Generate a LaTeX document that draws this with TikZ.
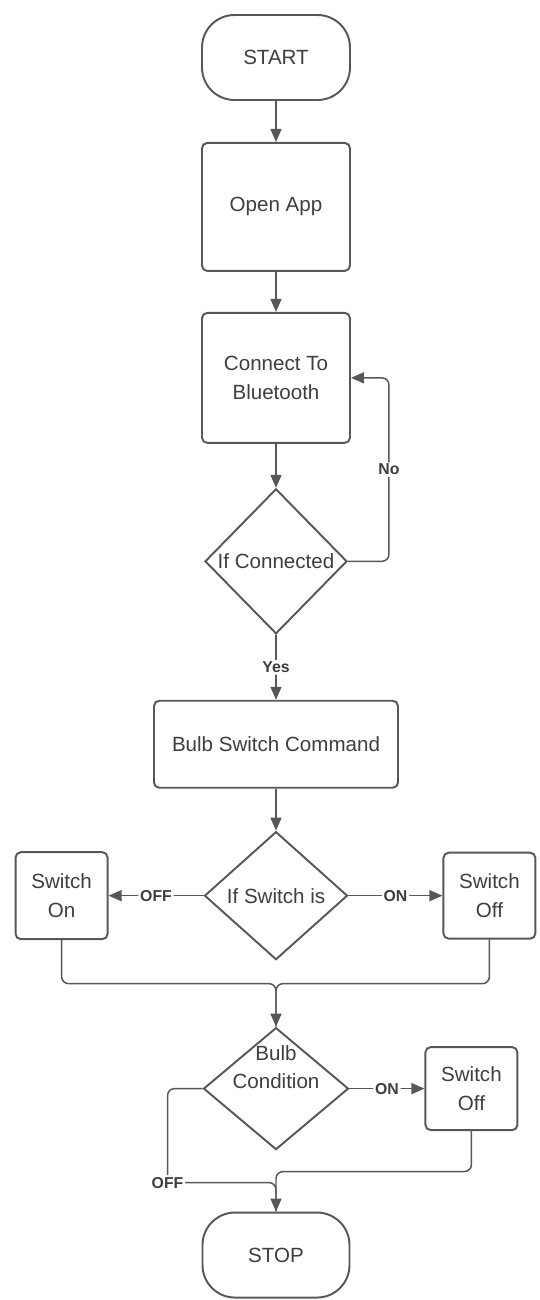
\documentclass[tikz,border=0pt]{standalone}
\usepackage{fontspec}
\setmainfont{Liberation Sans}
\usetikzlibrary{arrows.meta,positioning,shapes.geometric}
\definecolor{linegray}{HTML}{575757}
\definecolor{textgray}{HTML}{3E3E3E}
\tikzset{
    %Define standard arrow tip
    >={Triangle[length=2.6mm,width=2.2mm]},
    %Define style for start and stop
    termnode/.style={
             rectangle, rounded corners=0.65cm,
             draw=linegray, line width=1.1pt,
             minimum width=2.96cm, minimum height=1.7cm,
             text=textgray,
             font=\fontsize{11.7}{16}\selectfont},
    %Define style for boxes
    procnode/.style={
             rectangle, rounded corners=3pt,
             draw=linegray, line width=1.1pt,
             align=center, inner sep=0pt,
             text=textgray,
             font=\fontsize{11.7}{16}\selectfont},
    %Define style for decisions
    decnode/.style={
             diamond, inner sep=0pt,
             draw=linegray, line width=1.1pt,
             align=center,
             text=textgray,
             font=\fontsize{11.7}{16}\selectfont},
    % Define arrow style
    flowarrow/.style={
            ->,
            linegray,
            line width=0.85pt,
            rounded corners=4pt},
    flowline/.style={
            linegray,
            line width=0.85pt,
            rounded corners=4pt},
    % Define style for branch labels
    branchlabel/.style={
            fill=white, inner sep=1pt,
            text=textgray,
            font=\fontsize{9}{10}\selectfont\bfseries}
}

\begin{document}
\begin{tikzpicture}
 \useasboundingbox (0,0) rectangle (10.8,-26);
 \node[termnode] (start) at (5.52,-1.15) {START};
 \node[procnode, minimum width=2.96cm, minimum height=2.56cm, below=0.82cm of start] (openapp) {Open App};
 \node[procnode, minimum width=2.96cm, minimum height=2.6cm, below=0.8cm of openapp] (connect) {Connect To\\Bluetooth};
 \node[decnode, minimum width=2.84cm, minimum height=2.9cm, below=0.88cm of connect] (ifconn) {If Connected};
 \node[procnode, minimum width=4.88cm, minimum height=1.74cm, below=1.3cm of ifconn] (bulbcmd) {Bulb Switch Command};
 \node[decnode, minimum width=2.86cm, minimum height=2.56cm, below=0.84cm of bulbcmd] (ifswitch) {If Switch is};
 \node[procnode, minimum width=1.84cm, minimum height=1.74cm, left=1.9cm of ifswitch] (swon) {Switch\\On};
 \node[procnode, minimum width=1.84cm, minimum height=1.72cm, right=1.88cm of ifswitch] (swoff) {Switch\\Off};
 \node[decnode, minimum width=2.9cm, minimum height=2.44cm, below=1.32cm of ifswitch] (bulbcond) {};
 \node[align=center, text=textgray, font=\fontsize{11.7}{16}\selectfont, yshift=0.43cm] (bulbcondtext) at (bulbcond) {Bulb\\Condition};
 \node[procnode, minimum width=1.84cm, minimum height=1.66cm, right=1.5cm of bulbcond] (swoffb) {Switch\\Off};
 \node[termnode, minimum width=2.94cm, below=1.22cm of bulbcond] (stop) {STOP};
 \coordinate[above=0.86cm of bulbcond.north] (joinsw);
 \coordinate[above=0.8cm of stop.north] (joinoff);
 \coordinate[above=0.58cm of stop.north] (joinbulb);
 \draw[flowarrow] (start) -- (openapp);
 \draw[flowarrow] (openapp) -- (connect);
 \draw[flowarrow] (connect) -- (ifconn);
 \draw[flowarrow] (ifconn) -- node[branchlabel] {Yes} (bulbcmd);
 \draw[flowarrow] (ifconn.east) -- ++(0.82,0) |- node[branchlabel, pos=0.25] {No} (connect.east);
 \draw[flowarrow] (bulbcmd) -- (ifswitch);
 \draw[flowarrow] (ifswitch) -- node[branchlabel] {OFF} (swon);
 \draw[flowarrow] (ifswitch) -- node[branchlabel] {ON} (swoff);
 \draw[flowline] (swon.south) |- (joinsw) -- (bulbcond.north);
 \draw[flowarrow] (swoff.south) |- (joinsw) -- (bulbcond.north);
 \draw[flowarrow] (bulbcond) -- node[branchlabel] {ON} (swoffb);
 \draw[flowline] (bulbcond.west) -- ++(-0.7,0) |- node[branchlabel, pos=0.5] {OFF} (joinbulb) -- (stop.north);
 \draw[flowarrow] (swoffb.south) |- (joinoff) -- (stop.north);
\end{tikzpicture}
\end{document}
